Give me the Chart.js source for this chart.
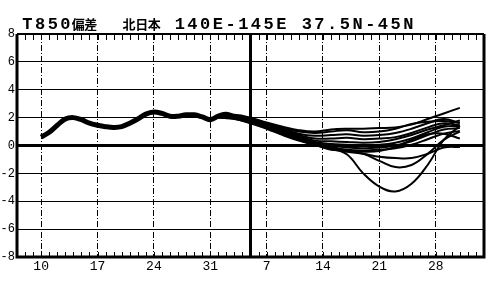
<!DOCTYPE html>
<html><head><meta charset="utf-8">
<script src="https://cdn.jsdelivr.net/npm/chart.js@4/dist/chart.umd.min.js"></script>
<style>html,body{margin:0;padding:0;background:#fff;}#wrap{width:495px;height:282px;position:relative;}</style>
</head><body><div id="wrap"><canvas id="c" width="495" height="282"></canvas></div>
<script>
const titleText = "T850偏差  北日本 140E-145E 37.5N-45N";
const weekDays = [0, 7, 14, 21, 28, 35, 42, 49];
const weekLabels = ["10", "17", "24", "31", "7", "14", "21", "28"];
const yTicks = [-8, -6, -4, -2, 0, 2, 4, 6, 8];
const todayDay = 26;

const obsDays = [0,1,2,3,4,5,6,7,8,9,10,11,12,13,14,15,16,17,18,19,20,21,22,23,24,25,26];
const obsVals = [0.6,0.95,1.45,1.9,2.0,1.85,1.6,1.45,1.35,1.3,1.35,1.6,1.9,2.25,2.4,2.3,2.1,2.1,2.2,2.2,2.05,1.85,2.1,2.25,2.05,1.9,1.75];

const fcstDays = [22,24,26,28,30,32,34,36,38,40,42,44,46,48,50,52];
const member01 = [2.15,2.2,2.0,1.65,1.35,1.1,1.0,1.15,1.2,1.2,1.25,1.3,1.5,1.9,2.3,2.7];
const member02 = [2.15,2.15,1.95,1.6,1.25,1.0,0.9,1.0,1.1,0.95,1.0,1.2,1.55,1.7,1.75,1.65];
const member03 = [2.1,2.1,1.9,1.55,1.2,0.85,0.7,0.75,0.8,0.7,0.75,0.9,1.2,1.6,1.9,1.6];
const member04 = [2.1,2.1,1.85,1.5,1.1,0.75,0.5,0.5,0.55,0.45,0.5,0.6,0.9,1.3,1.6,1.45];
const member05 = [2.1,2.05,1.8,1.45,1.05,0.65,0.35,0.3,0.25,0.2,0.25,0.45,0.75,1.15,1.45,1.8];
const member06 = [2.1,2.05,1.75,1.4,1.0,0.6,0.25,0.1,0.05,0.0,0.05,0.2,0.5,0.95,1.35,1.4];
const member07 = [2.05,2.0,1.75,1.35,0.95,0.55,0.2,0.0,-0.15,-0.2,-0.15,0.0,0.3,0.75,1.15,1.25];
const member08 = [2.05,2.0,1.7,1.35,0.9,0.5,0.15,-0.1,-0.3,-0.35,-0.3,-0.2,0.05,0.45,0.85,1.05];
const member09 = [2.05,1.95,1.7,1.3,0.85,0.45,0.1,-0.2,-0.4,-0.45,-0.4,-0.1,0.4,0.8,0.85,0.5];
const member10 = [2.05,1.95,1.65,1.25,0.8,0.4,0.05,-0.3,-0.35,-0.6,-1.1,-1.55,-1.4,-0.6,0.4,1.0];
const member11 = [2.0,1.95,1.65,1.25,0.8,0.4,0.05,-0.25,-0.45,-0.6,-0.8,-0.9,-0.9,-0.6,-0.15,-0.1];
const member12 = [2.0,1.9,1.6,1.2,0.75,0.35,0.05,-0.2,-0.65,-2.0,-2.95,-3.3,-2.75,-1.4,0.4,1.4];
const members = [member01,member02,member03,member04,member05,member06,member07,member08,member09,member10,member11,member12];

const pts = (xs, ys) => xs.map((x, i) => ({x: x, y: ys[i]}));

const datasets = [];
members.forEach((m, k) => datasets.push({
  label: 'member' + (k + 1), data: pts(fcstDays, m),
  borderColor: '#000', borderWidth: 2, pointRadius: 0, tension: 0.4, fill: false
}));
datasets.push({label: 'analysis', data: pts(obsDays, obsVals), borderColor: '#000', borderWidth: 5,
  pointRadius: 0, tension: 0.4, fill: false});
datasets.push({label: 'today', data: [{x: todayDay, y: yTicks[0]}, {x: todayDay, y: yTicks[yTicks.length - 1]}],
  borderColor: '#000', borderWidth: 3, pointRadius: 0, fill: false});

const framePlugin = {
  id: 'frame',
  afterDraw(chart) {
    const ctx = chart.ctx, a = chart.chartArea, xs = chart.scales.x;
    ctx.save();
    ctx.strokeStyle = '#000';
    ctx.lineWidth = 1;
    ctx.beginPath();
    for (let d = Math.ceil(xs.min); d <= xs.max; d++) {
      const px = Math.round(xs.getPixelForValue(d)) + 0.5;
      ctx.moveTo(px, a.top); ctx.lineTo(px, a.top + 6);
      ctx.moveTo(px, a.bottom); ctx.lineTo(px, a.bottom - 5);
    }
    ctx.stroke();
    ctx.lineWidth = 2;
    ctx.beginPath(); ctx.moveTo(a.left, a.top); ctx.lineTo(a.right, a.top); ctx.stroke();
    ctx.lineWidth = 3;
    ctx.beginPath();
    ctx.moveTo(a.left, a.top); ctx.lineTo(a.left, a.bottom); ctx.lineTo(a.right, a.bottom); ctx.lineTo(a.right, a.top);
    ctx.stroke();
    ctx.restore();
  }
};

const titlePlugin = {
  id: 'ttl',
  afterDraw(chart) {
    const ctx = chart.ctx;
    ctx.save();
    ctx.fillStyle = '#000';
    ctx.textAlign = 'center';
    ctx.textBaseline = 'alphabetic';
    const pitch = 12.7, x0 = 21;
    [...titleText].forEach((ch, i) => {
      if (ch === ' ') return;
      const cjk = ch.charCodeAt(0) > 0x2000;
      ctx.font = cjk ? 'bold 13px "Noto Sans CJK JP"' : 'bold 17px "Liberation Mono"';
      ctx.fillText(ch, x0 + i * pitch + pitch / 2, 29);
    });
    ctx.restore();
  }
};

new Chart(document.getElementById('c'), {
  type: 'line',
  data: {datasets: datasets},
  options: {
    responsive: false, animation: false, devicePixelRatio: 1,
    layout: {padding: {top: 34, right: 11, bottom: 0, left: 0}},
    plugins: {legend: {display: false}, title: {display: false}, tooltip: {enabled: false}},
    scales: {
      x: {
        type: 'linear', min: -3, max: 55,
        afterBuildTicks: s => { s.ticks = weekDays.map(v => ({value: v})); },
        afterFit: s => { s.height = 25; },
        ticks: {callback: v => weekLabels[weekDays.indexOf(v)], font: {family: 'Liberation Mono', size: 13},
          color: '#000', padding: 2, maxRotation: 0, autoSkip: false},
        grid: {color: '#000', lineWidth: 1, drawTicks: false},
        border: {display: false, dash: [6, 2, 1, 2]}
      },
      y: {
        min: -8, max: 8,
        afterBuildTicks: s => { s.ticks = yTicks.map(v => ({value: v})); },
        afterFit: s => { s.width = 17; },
        ticks: {font: {family: 'Liberation Mono', size: 12}, color: '#000', padding: 2, callback: v => String(v)},
        grid: {drawTicks: false,
          color: c => (Math.abs(c.tick.value) === 8 ? 'rgba(0,0,0,0)' : '#000'),
          lineWidth: c => (c.tick.value === 0 ? 3 : 1)},
        border: {display: false}
      }
    }
  },
  plugins: [framePlugin, titlePlugin]
});
</script></body></html>
